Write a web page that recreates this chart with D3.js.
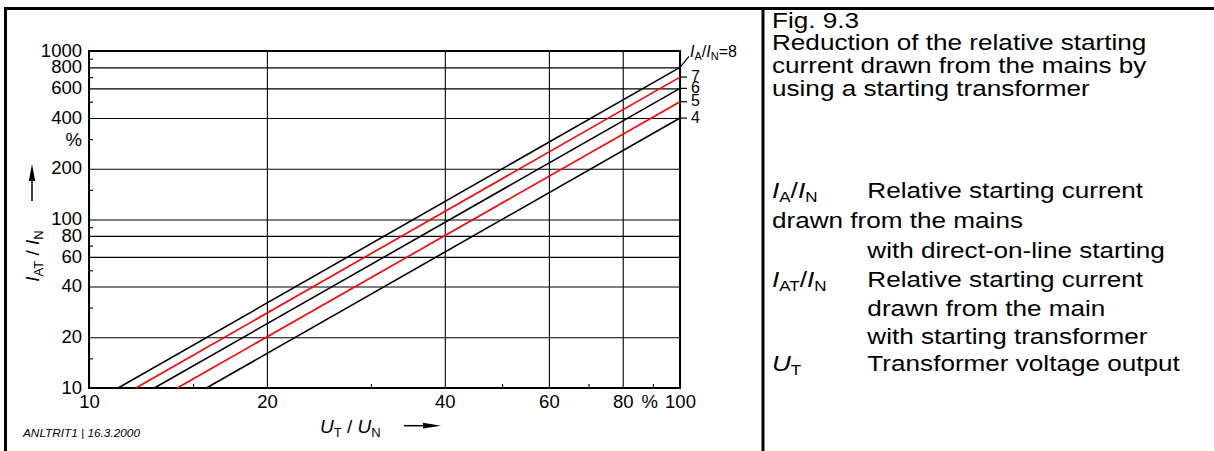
<!DOCTYPE html>
<html><head><meta charset="utf-8">
<script src="https://cdn.jsdelivr.net/npm/d3@7"></script>
<style>
body{margin:0;background:#fff}
svg{display:block}
text{font-family:"Liberation Sans",Arial,sans-serif;fill:#000}
</style></head><body>
<svg id="chart" width="1214" height="451"></svg>
<script>
// Direct-on-line starting current ratios I_A/I_N, one line each
const ratios = [8, 7, 6, 5, 4];
// Where each line enters the plot (U_T/U_N in %, I_AT/I_N in %)
const startVoltage = [11.2, 12.0, 12.9, 14.1, 15.8];
const startCurrent = [10, 10, 10, 10, 10];
// Where each line leaves the plot at full voltage
const endVoltage = [100, 100, 100, 100, 100];
const endCurrent = [800, 700, 600, 500, 400];
const lineColors = ["#000", "#f00", "#000", "#f00", "#000"];

const xTicks = [10, 20, 40, 60, 80, 100];
const xMinor = [15, 30, 50, 70, 90];
const yTicks = [10, 20, 40, 60, 80, 100, 200, 400, 600, 800, 1000];
const yMinor = [15, 30, 50, 70, 90, 150, 300, 500, 700, 900];

const captionLines = [
  "Fig. 9.3",
  "Reduction of the relative starting",
  "current drawn from the mains by",
  "using a starting transformer"
];

const svg = d3.select("#chart");
const m = {left: 89, right: 680, top: 51, bottom: 388};
const x = d3.scaleLog().domain([10, 100]).range([m.left, m.right]);
const y = d3.scaleLog().domain([10, 1000]).range([m.bottom, m.top]);
const W = m.right - m.left, H = m.bottom - m.top;

// outer frame and divider
svg.append("path").attr("d", "M5.5,451 V8.5 H1214").attr("fill", "none")
  .attr("stroke", "#000").attr("stroke-width", 3);
svg.append("line").attr("x1", 763).attr("x2", 763).attr("y1", 7).attr("y2", 451)
  .attr("stroke", "#000").attr("stroke-width", 3);

// grid + tick labels
const gy = svg.append("g").attr("transform", `translate(${m.left},0)`)
  .call(d3.axisLeft(y).tickValues(yTicks).tickSize(-W).tickPadding(7).tickFormat(d3.format("d")));
const gx = svg.append("g").attr("transform", `translate(0,${m.bottom})`)
  .call(d3.axisBottom(x).tickValues(xTicks).tickSize(-H).tickPadding(7).tickFormat(d3.format("d")));
[gy, gx].forEach(g => {
  g.select(".domain").remove();
  g.selectAll(".tick line").attr("stroke", "#000").attr("stroke-width", 1.1);
  g.selectAll(".tick text").attr("font-family", "Liberation Sans, Arial, sans-serif")
    .attr("font-size", 18.5).attr("fill", "#000");
});
gy.selectAll(".tick text").attr("dy", "0.28em");

// minor ticks
svg.append("g").attr("transform", `translate(${m.left},0)`)
  .call(d3.axisLeft(y).tickValues(yMinor).tickSize(-4).tickFormat(""))
  .call(g => g.select(".domain").remove())
  .selectAll("line").attr("stroke", "#000").attr("stroke-width", 1.1);
svg.append("g").attr("transform", `translate(0,${m.bottom})`)
  .call(d3.axisBottom(x).tickValues(xMinor).tickSize(-4).tickFormat(""))
  .call(g => g.select(".domain").remove())
  .selectAll("line").attr("stroke", "#000").attr("stroke-width", 1.1);

// plot frame
svg.append("rect").attr("x", m.left).attr("y", m.top).attr("width", W).attr("height", H)
  .attr("fill", "none").attr("stroke", "#000").attr("stroke-width", 2);

// unit markers
svg.append("text").attr("x", 82).attr("y", y(300)).attr("dy", "0.35em")
  .attr("text-anchor", "end").attr("font-size", 18.5).text("%");
svg.append("text").attr("x", 658).attr("y", m.bottom + 7).attr("dy", "0.71em")
  .attr("text-anchor", "end").attr("font-size", 18.5).text("%");

// lines
const series = ratios.map((r, i) => ({
  r, color: lineColors[i],
  pts: [{u: startVoltage[i], v: startCurrent[i]}, {u: endVoltage[i], v: endCurrent[i]}]
}));
const line = d3.line().x(d => x(d.u)).y(d => y(d.v));
svg.append("g").selectAll("path").data(series).join("path")
  .attr("d", d => line(d.pts)).attr("fill", "none")
  .attr("stroke", d => d.color).attr("stroke-width", 1.6);

// line labels
const lab = svg.append("g");
series.slice(1).forEach(s => {
  const p = s.pts[1], px = x(p.u), py = y(p.v);
  lab.append("line").attr("x1", px + 1).attr("x2", px + 7).attr("y1", py).attr("y2", py)
    .attr("stroke", "#000").attr("stroke-width", 1.2);
  lab.append("text").attr("x", px + 11).attr("y", py - 1).attr("dy", "0.36em")
    .attr("font-size", 16).text(s.r);
});
{
  const s = series[0], p = s.pts[1], px = x(p.u), py = y(p.v);
  lab.append("line").attr("x1", px).attr("y1", py).attr("x2", px + 9).attr("y2", py - 11)
    .attr("stroke", "#000").attr("stroke-width", 1.2);
  const t = lab.append("text").attr("x", px + 10).attr("y", py - 10).attr("font-size", 16);
  t.append("tspan").attr("font-style", "italic").text("I");
  t.append("tspan").attr("font-size", 11).attr("dy", 3).text("A");
  t.append("tspan").attr("dy", -3).text("/");
  t.append("tspan").attr("font-style", "italic").text("I");
  t.append("tspan").attr("font-size", 11).attr("dy", 3).text("N");
  t.append("tspan").attr("dy", -3).text("=" + s.r);
}

// axis titles with arrows
const yt = svg.append("text").attr("transform", "translate(39,256) rotate(-90)")
  .attr("text-anchor", "middle").attr("font-size", 19);
yt.append("tspan").attr("font-style", "italic").text("I");
yt.append("tspan").attr("font-size", 13).attr("dy", 4).text("AT");
yt.append("tspan").attr("dy", -4).text(" / ");
yt.append("tspan").attr("font-style", "italic").text("I");
yt.append("tspan").attr("font-size", 13).attr("dy", 4).text("N");
svg.append("line").attr("x1", 32).attr("x2", 32).attr("y1", 201).attr("y2", 178)
  .attr("stroke", "#000").attr("stroke-width", 1.5);
svg.append("path").attr("d", "M32,164 L28.8,181 L35.2,181 Z").attr("fill", "#000");

const xt = svg.append("text").attr("x", 320).attr("y", 433).attr("font-size", 19);
xt.append("tspan").attr("font-style", "italic").text("U");
xt.append("tspan").attr("font-size", 13).attr("dy", 4).text("T");
xt.append("tspan").attr("dy", -4).text(" / ");
xt.append("tspan").attr("font-style", "italic").text("U");
xt.append("tspan").attr("font-size", 13).attr("dy", 4).text("N");
svg.append("line").attr("x1", 404).attr("x2", 426).attr("y1", 425.7).attr("y2", 425.7)
  .attr("stroke", "#000").attr("stroke-width", 1.5);
svg.append("path").attr("d", "M441,425.7 L423,422.8 L423,428.6 Z").attr("fill", "#000");

svg.append("text").attr("x", 23).attr("y", 437).attr("font-size", 11.8)
  .attr("font-style", "italic").text("ANLTRIT1 | 16.3.2000");

// caption and legend on the right
const fs = 21.5, indent = 78.5;
const cap = svg.append("g").attr("transform", "translate(772,0) scale(1.215,1)");
const capY = [28, 50.5, 73.5, 96.5];
captionLines.forEach((s, i) => {
  cap.append("text").attr("x", 0).attr("y", capY[i]).attr("font-size", fs).text(s);
});
function symbol(g, parts, yPos) {
  const t = g.append("text").attr("x", 0).attr("y", yPos).attr("font-size", fs);
  parts.forEach((b, k) => {
    if (k) t.append("tspan").attr("dy", -4).text("/");
    t.append("tspan").attr("font-style", "italic").text(b[0]);
    t.append("tspan").attr("font-size", 14).attr("dy", 4).text(b[1]);
  });
}
const legY = [198, 228, 258, 287, 316, 344, 371];
symbol(cap, [["I", "A"], ["I", "N"]], legY[0]);
cap.append("text").attr("x", indent).attr("y", legY[0]).attr("font-size", fs).text("Relative starting current");
cap.append("text").attr("x", 0).attr("y", legY[1]).attr("font-size", fs).text("drawn from the mains");
cap.append("text").attr("x", indent).attr("y", legY[2]).attr("font-size", fs).text("with direct-on-line starting");
symbol(cap, [["I", "AT"], ["I", "N"]], legY[3]);
cap.append("text").attr("x", indent).attr("y", legY[3]).attr("font-size", fs).text("Relative starting current");
cap.append("text").attr("x", indent).attr("y", legY[4]).attr("font-size", fs).text("drawn from the main");
cap.append("text").attr("x", indent).attr("y", legY[5]).attr("font-size", fs).text("with starting transformer");
symbol(cap, [["U", "T"]], legY[6]);
cap.append("text").attr("x", indent).attr("y", legY[6]).attr("font-size", fs).text("Transformer voltage output");
</script>
</body></html>
